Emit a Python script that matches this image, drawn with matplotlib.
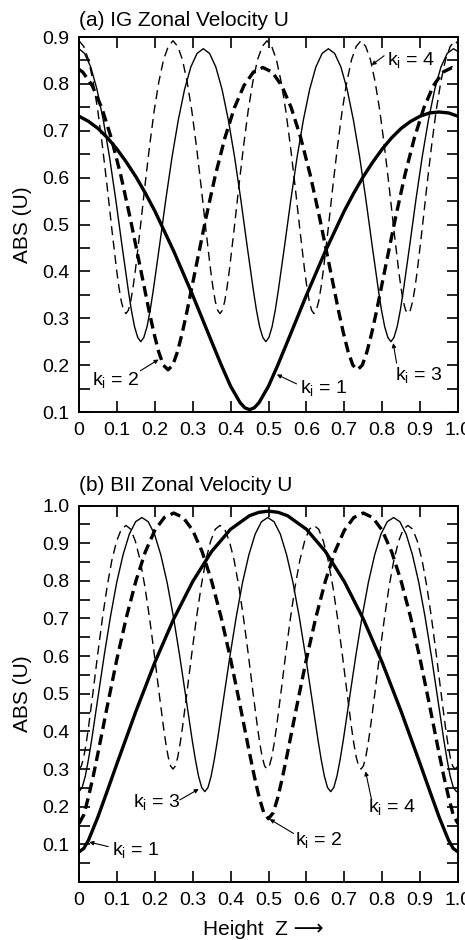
import matplotlib
matplotlib.use("Agg")
import matplotlib.pyplot as plt
from matplotlib.ticker import MultipleLocator

plt.rcParams['font.family'] = ['Liberation Sans', 'DejaVu Sans']
plt.rcParams['mathtext.default'] = 'regular'

# ---------------- Panel (a): IG Zonal Velocity U ----------------
z1a = [0.0, 0.025, 0.05, 0.075, 0.1, 0.125, 0.15, 0.175, 0.2, 0.25, 0.3, 0.35, 0.375, 0.4, 0.425, 0.4375, 0.45,
       0.4625, 0.475, 0.5, 0.525, 0.55, 0.6, 0.65, 0.7, 0.725, 0.75, 0.775, 0.8, 0.825, 0.85, 0.875, 0.9,
       0.925, 0.95, 0.975, 1.0]
u1a = [0.731, 0.720, 0.705, 0.685, 0.661, 0.633, 0.602, 0.567, 0.529, 0.443, 0.349, 0.250, 0.201, 0.155, 0.120, 0.109, 0.105,
       0.109, 0.120, 0.155, 0.201, 0.250, 0.349, 0.443, 0.529, 0.567, 0.602, 0.633, 0.661, 0.685, 0.705, 0.720, 0.731,
       0.738, 0.740, 0.738, 0.731]

z2a = [0.0, 0.01, 0.035, 0.06, 0.085, 0.11, 0.135, 0.16, 0.185, 0.1975,
       0.21, 0.2225, 0.235, 0.2475, 0.26, 0.2725, 0.285, 0.31, 0.335, 0.36,
       0.385, 0.41, 0.435, 0.46, 0.485, 0.51, 0.535, 0.56, 0.585, 0.61,
       0.635, 0.66, 0.685, 0.6975, 0.71, 0.7225, 0.735, 0.7475, 0.76, 0.7725,
       0.785, 0.81, 0.835, 0.86, 0.885, 0.91, 0.935, 0.96, 0.985, 1.0]
u2a = [0.831, 0.825, 0.796, 0.749, 0.685, 0.606, 0.514, 0.415, 0.315, 0.269,
       0.229, 0.200, 0.190, 0.200, 0.229, 0.269, 0.315, 0.415, 0.514, 0.606,
       0.685, 0.749, 0.796, 0.825, 0.835, 0.825, 0.796, 0.749, 0.685, 0.606,
       0.514, 0.415, 0.315, 0.269, 0.229, 0.200, 0.190, 0.200, 0.229, 0.269,
       0.315, 0.415, 0.514, 0.606, 0.685, 0.749, 0.796, 0.825, 0.835, 0.831]

z3a = [0.0, 0.0145, 0.031, 0.0475, 0.064, 0.0805, 0.097, 0.1135, 0.13, 0.138, 0.1465, 0.155, 0.163,
       0.171, 0.1795, 0.188, 0.196, 0.2125, 0.229, 0.2455, 0.262, 0.2785, 0.295, 0.3115, 0.328,
       0.3445, 0.361, 0.3775, 0.394, 0.4105, 0.427, 0.4435, 0.46, 0.468, 0.4765, 0.485, 0.493,
       0.501, 0.5095, 0.518, 0.526, 0.5425, 0.559, 0.5755, 0.592, 0.6085, 0.625, 0.6415, 0.658,
       0.6745, 0.691, 0.7075, 0.724, 0.7405, 0.757, 0.7735, 0.79, 0.798, 0.8065, 0.815, 0.823,
       0.831, 0.8395, 0.848, 0.856, 0.8725, 0.889, 0.9055, 0.922, 0.9385, 0.955, 0.9715, 0.988, 1.0]
u3a = [0.875, 0.865, 0.836, 0.788, 0.723, 0.644, 0.553, 0.455, 0.360, 0.318, 0.282, 0.259, 0.250,
       0.259, 0.282, 0.318, 0.360, 0.455, 0.553, 0.644, 0.723, 0.788, 0.836, 0.865, 0.875,
       0.865, 0.836, 0.788, 0.723, 0.644, 0.553, 0.455, 0.360, 0.318, 0.282, 0.259, 0.250,
       0.259, 0.282, 0.318, 0.360, 0.455, 0.553, 0.644, 0.723, 0.788, 0.836, 0.865, 0.875,
       0.865, 0.836, 0.788, 0.723, 0.644, 0.553, 0.455, 0.360, 0.318, 0.282, 0.259, 0.250,
       0.259, 0.282, 0.318, 0.360, 0.455, 0.553, 0.644, 0.723, 0.788, 0.836, 0.865, 0.875, 0.869]

z4a = [0.0, 0.0124, 0.0248, 0.0372, 0.0496, 0.062, 0.0744, 0.0868, 0.0992, 0.1054, 0.1116, 0.1178, 0.124,
       0.1302, 0.1364, 0.1426, 0.1488, 0.1612, 0.1736, 0.186, 0.1984, 0.2108, 0.2232, 0.2356, 0.248,
       0.2604, 0.2728, 0.2852, 0.2976, 0.31, 0.3224, 0.3348, 0.3472, 0.3534, 0.3596, 0.3658, 0.372,
       0.3782, 0.3844, 0.3906, 0.3968, 0.4092, 0.4216, 0.434, 0.4464, 0.4588, 0.4712, 0.4836, 0.496,
       0.5084, 0.5208, 0.5332, 0.5456, 0.558, 0.5704, 0.5828, 0.5952, 0.6014, 0.6076, 0.6138, 0.62,
       0.6262, 0.6324, 0.6386, 0.6448, 0.6572, 0.6696, 0.682, 0.6944, 0.7068, 0.7192, 0.7316, 0.744,
       0.7564, 0.7688, 0.7812, 0.7936, 0.806, 0.8184, 0.8308, 0.8432, 0.8494, 0.8556, 0.8618, 0.868,
       0.8742, 0.8804, 0.8866, 0.8928, 0.9052, 0.9176, 0.93, 0.9424, 0.9548, 0.9672, 0.9796, 0.992, 1.0]
u4a = [0.892, 0.880, 0.852, 0.805, 0.743, 0.666, 0.580, 0.489, 0.403, 0.366, 0.336, 0.317, 0.310,
       0.317, 0.336, 0.366, 0.403, 0.489, 0.580, 0.666, 0.743, 0.805, 0.852, 0.880, 0.892,
       0.880, 0.852, 0.805, 0.743, 0.666, 0.580, 0.489, 0.403, 0.366, 0.336, 0.317, 0.310,
       0.317, 0.336, 0.366, 0.403, 0.489, 0.580, 0.666, 0.743, 0.805, 0.852, 0.880, 0.892,
       0.880, 0.852, 0.805, 0.743, 0.666, 0.580, 0.489, 0.403, 0.366, 0.336, 0.317, 0.310,
       0.317, 0.336, 0.366, 0.403, 0.489, 0.580, 0.666, 0.743, 0.805, 0.852, 0.880, 0.892,
       0.880, 0.852, 0.805, 0.743, 0.666, 0.580, 0.489, 0.403, 0.366, 0.336, 0.317, 0.310,
       0.317, 0.336, 0.366, 0.403, 0.489, 0.580, 0.666, 0.743, 0.805, 0.852, 0.880, 0.892, 0.885]

# ---------------- Panel (b): BII Zonal Velocity U ----------------
z1b = [0.0, 0.0125, 0.025, 0.05, 0.075, 0.1, 0.15, 0.2, 0.25, 0.3,
       0.35, 0.4, 0.45, 0.475, 0.5, 0.525, 0.55, 0.6, 0.65, 0.7, 0.75, 0.8,
       0.85, 0.9, 0.925, 0.95, 0.975, 0.9875, 1.0]
u1b = [0.080, 0.089, 0.111, 0.173, 0.243, 0.314, 0.453, 0.583, 0.699, 0.798,
       0.878, 0.937, 0.973, 0.982, 0.985, 0.982, 0.973, 0.937, 0.878, 0.798, 0.699, 0.583,
       0.453, 0.314, 0.243, 0.173, 0.111, 0.089, 0.080]

z2b = [0.0, 0.0125, 0.025, 0.0375, 0.05, 0.075, 0.1, 0.125, 0.15, 0.175,
       0.2, 0.225, 0.25, 0.275, 0.3, 0.325, 0.35, 0.375, 0.4, 0.425,
       0.45, 0.4625, 0.475, 0.4875, 0.5, 0.5125, 0.525, 0.5375, 0.55, 0.575,
       0.6, 0.625, 0.65, 0.675, 0.7, 0.725, 0.75, 0.775, 0.8, 0.825,
       0.85, 0.875, 0.9, 0.925, 0.95, 0.9625, 0.975, 0.9875, 1.0]
u2b = [0.155, 0.178, 0.226, 0.281, 0.342, 0.469, 0.592, 0.703, 0.799, 0.877,
       0.934, 0.968, 0.980, 0.968, 0.934, 0.877, 0.799, 0.703, 0.592, 0.469,
       0.342, 0.281, 0.226, 0.184, 0.168, 0.184, 0.226, 0.281, 0.342, 0.469,
       0.592, 0.703, 0.799, 0.877, 0.934, 0.968, 0.980, 0.968, 0.934, 0.877,
       0.799, 0.703, 0.592, 0.469, 0.342, 0.281, 0.226, 0.178, 0.155]

z3b = [0.0, 0.0083, 0.0166, 0.0249, 0.0332, 0.0498, 0.0664, 0.083, 0.0996, 0.1162, 0.1328, 0.1494, 0.166,
       0.1826, 0.1992, 0.2158, 0.2324, 0.249, 0.2656, 0.2822, 0.2988, 0.3071, 0.3154, 0.3237, 0.332,
       0.3403, 0.3486, 0.3569, 0.3652, 0.3818, 0.3984, 0.415, 0.4316, 0.4482, 0.4648, 0.4814, 0.498,
       0.5146, 0.5312, 0.5478, 0.5644, 0.581, 0.5976, 0.6142, 0.6308, 0.6391, 0.6474, 0.6557, 0.664,
       0.6723, 0.6806, 0.6889, 0.6972, 0.7138, 0.7304, 0.747, 0.7636, 0.7802, 0.7968, 0.8134, 0.83,
       0.8466, 0.8632, 0.8798, 0.8964, 0.913, 0.9296, 0.9462, 0.9628, 0.9711, 0.9794, 0.9877, 0.996, 1.0]
u3b = [0.240, 0.251, 0.281, 0.325, 0.376, 0.489, 0.601, 0.705, 0.796, 0.869, 0.924, 0.957, 0.968,
       0.957, 0.924, 0.869, 0.796, 0.705, 0.601, 0.489, 0.376, 0.325, 0.281, 0.251, 0.240,
       0.251, 0.281, 0.325, 0.376, 0.489, 0.601, 0.705, 0.796, 0.869, 0.924, 0.957, 0.968,
       0.957, 0.924, 0.869, 0.796, 0.705, 0.601, 0.489, 0.376, 0.325, 0.281, 0.251, 0.240,
       0.251, 0.281, 0.325, 0.376, 0.489, 0.601, 0.705, 0.796, 0.869, 0.924, 0.957, 0.968,
       0.957, 0.924, 0.869, 0.796, 0.705, 0.601, 0.489, 0.376, 0.325, 0.281, 0.251, 0.240, 0.242]

z4b = [0.0, 0.0062, 0.0124, 0.0186, 0.0248, 0.0372, 0.0496, 0.062, 0.0744, 0.0868, 0.0992, 0.1116, 0.124,
       0.1364, 0.1488, 0.1612, 0.1736, 0.186, 0.1984, 0.2108, 0.2232, 0.2294, 0.2356, 0.2418, 0.248,
       0.2542, 0.2604, 0.2666, 0.2728, 0.2852, 0.2976, 0.31, 0.3224, 0.3348, 0.3472, 0.3596, 0.372,
       0.3844, 0.3968, 0.4092, 0.4216, 0.434, 0.4464, 0.4588, 0.4712, 0.4774, 0.4836, 0.4898, 0.496,
       0.5022, 0.5084, 0.5146, 0.5208, 0.5332, 0.5456, 0.558, 0.5704, 0.5828, 0.5952, 0.6076, 0.62,
       0.6324, 0.6448, 0.6572, 0.6696, 0.682, 0.6944, 0.7068, 0.7192, 0.7254, 0.7316, 0.7378, 0.744,
       0.7502, 0.7564, 0.7626, 0.7688, 0.7812, 0.7936, 0.806, 0.8184, 0.8308, 0.8432, 0.8556, 0.868,
       0.8804, 0.8928, 0.9052, 0.9176, 0.93, 0.9424, 0.9548, 0.9672, 0.9734, 0.9796, 0.9858, 0.992, 1.0]
u4b = [0.300, 0.308, 0.331, 0.366, 0.409, 0.506, 0.607, 0.702, 0.786, 0.855, 0.905, 0.937, 0.947,
       0.937, 0.905, 0.855, 0.786, 0.702, 0.607, 0.506, 0.409, 0.366, 0.331, 0.308, 0.300,
       0.308, 0.331, 0.366, 0.409, 0.506, 0.607, 0.702, 0.786, 0.855, 0.905, 0.937, 0.947,
       0.937, 0.905, 0.855, 0.786, 0.702, 0.607, 0.506, 0.409, 0.366, 0.331, 0.308, 0.300,
       0.308, 0.331, 0.366, 0.409, 0.506, 0.607, 0.702, 0.786, 0.855, 0.905, 0.937, 0.947,
       0.937, 0.905, 0.855, 0.786, 0.702, 0.607, 0.506, 0.409, 0.366, 0.331, 0.308, 0.300,
       0.308, 0.331, 0.366, 0.409, 0.506, 0.607, 0.702, 0.786, 0.855, 0.905, 0.937, 0.947,
       0.937, 0.905, 0.855, 0.786, 0.702, 0.607, 0.506, 0.409, 0.366, 0.331, 0.308, 0.300, 0.308]

x_ticks = [0.0, 0.1, 0.2, 0.3, 0.4, 0.5, 0.6, 0.7, 0.8, 0.9, 1.0]
x_ticklabels = ['0', '0.1', '0.2', '0.3', '0.4', '0.5', '0.6', '0.7', '0.8', '0.9', '1.0']
ya_ticks = [0.1, 0.2, 0.3, 0.4, 0.5, 0.6, 0.7, 0.8, 0.9]
yb_ticks = [0.1, 0.2, 0.3, 0.4, 0.5, 0.6, 0.7, 0.8, 0.9, 1.0]

# annotation labels: (text, text x, text baseline y, arrow tail, arrow tip)
ann_a = [('k$_i$ = 4', 0.813, 0.840, (0.805, 0.860), (0.772, 0.840)),
         ('k$_i$ = 2', 0.034, 0.158, (0.162, 0.188), (0.210, 0.212)),
         ('k$_i$ = 1', 0.583, 0.140, (0.574, 0.160), (0.522, 0.180)),
         ('k$_i$ = 3', 0.834, 0.169, (0.838, 0.204), (0.829, 0.247))]
ann_b = [('k$_i$ = 1', 0.087, 0.072, (0.077, 0.094), (0.027, 0.106)),
         ('k$_i$ = 3', 0.142, 0.198, (0.266, 0.218), (0.316, 0.247)),
         ('k$_i$ = 2', 0.570, 0.098, (0.566, 0.129), (0.503, 0.167)),
         ('k$_i$ = 4', 0.763, 0.187, (0.772, 0.218), (0.756, 0.294))]

W, H = 465, 940
fig = plt.figure(figsize=(W / 100, H / 100), dpi=100)

def px_axes(l, t, r, b):
    return fig.add_axes([l / W, 1 - b / H, (r - l) / W, (b - t) / H])

axa = px_axes(79, 37, 458, 412)
axb = px_axes(79, 505.5, 458, 882)

thick_w, thin_w = 2.4, 1.0
styles = [dict(color='black', lw=thick_w, ls='-'),
          dict(color='black', lw=thick_w, ls=(0, (3.2, 1.7))),
          dict(color='black', lw=thin_w, ls='-'),
          dict(color='black', lw=thin_w, ls=(0, (6.5, 4.0)))]

for ax, data in [(axa, [(z1a, u1a), (z2a, u2a), (z3a, u3a), (z4a, u4a)]),
                 (axb, [(z1b, u1b), (z2b, u2b), (z3b, u3b), (z4b, u4b)])]:
    for (zz, uu), st in zip(data, styles):
        ax.plot(zz, uu, solid_joinstyle='round', **st)

def style_axes(ax, ylim, yticks):
    ax.set_xlim(0, 1.0)
    ax.set_ylim(*ylim)
    ax.set_xticks(x_ticks)
    ax.set_xticklabels(x_ticklabels)
    ax.set_yticks(yticks)
    ax.set_yticklabels(['%.1f' % v for v in yticks])
    ax.yaxis.set_minor_locator(MultipleLocator(0.05))
    ax.tick_params(axis='both', which='both', direction='in', top=True, right=True,
                   labelsize=14, width=1.2)
    ax.tick_params(axis='x', which='major', length=8, pad=7)
    ax.tick_params(axis='y', which='major', length=8, pad=7)
    ax.tick_params(axis='y', which='minor', length=8)
    for sp in ax.spines.values():
        sp.set_linewidth(1.4)

style_axes(axa, (0.1, 0.9), ya_ticks)
style_axes(axb, (0.0, 1.0), yb_ticks)

for ax, anns in [(axa, ann_a), (axb, ann_b)]:
    for txt, tx, ty, tail, tip in anns:
        ax.text(tx, ty, txt, fontsize=14, ha='left', va='baseline')
        ax.annotate('', xy=tip, xytext=tail,
                    arrowprops=dict(arrowstyle='-|>', color='black', lw=0.8,
                                    mutation_scale=6, shrinkA=0, shrinkB=0))

fig.text(79 / W, 1 - 26 / H, '(a) IG Zonal Velocity U', fontsize=15, ha='left', va='baseline')
fig.text(79 / W, 1 - 491 / H, '(b) BII Zonal Velocity U', fontsize=15, ha='left', va='baseline')
fig.text(22 / W, 1 - 224.5 / H, 'ABS (U)', fontsize=15, rotation=90, ha='center', va='center')
fig.text(22 / W, 1 - 694 / H, 'ABS (U)', fontsize=15, rotation=90, ha='center', va='center')
fig.text(203 / W, 1 - 935 / H, 'Height  Z \u27f6', fontsize=15, ha='left', va='baseline')

fig.savefig('out.png', dpi=100)
